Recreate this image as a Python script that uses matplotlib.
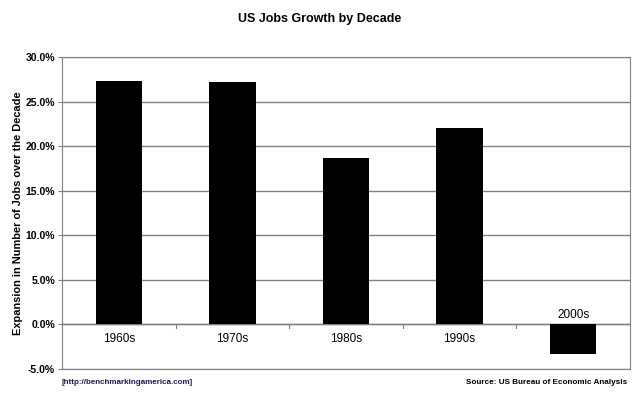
import numpy as np
import matplotlib
matplotlib.use("Agg")
import matplotlib.pyplot as plt
from matplotlib.ticker import FuncFormatter, MultipleLocator

plt.rcParams['font.family'] = ['Liberation Sans', 'DejaVu Sans']

# data
decades = ['1960s', '1970s', '1980s', '1990s', '2000s']
growth = [27.3, 27.2, 18.7, 22.0, -3.3]

fig = plt.figure(figsize=(6.4, 3.94), dpi=100)
ax = fig.add_axes([62/640, 25/394, 568/640, 312/394])

x = np.arange(len(decades))
ax.bar(x, growth, width=0.41, color='black', zorder=3)

ax.set_xlim(-0.5, len(decades) - 0.5)
ax.set_ylim(-5, 30)
ax.yaxis.set_major_locator(MultipleLocator(5))
ax.yaxis.set_major_formatter(FuncFormatter(lambda v, p: f'{v:.1f}%'))
ax.grid(axis='y', color='#808080', linewidth=1.0, zorder=0)
ax.axhline(0, color='#808080', linewidth=1.0, zorder=2)

# category boundary ticks hanging off the zero line
for b in np.arange(0.5, len(decades) - 0.5):
    ax.plot([b, b], [0, -0.35], color='#808080', linewidth=0.8, zorder=2)

ax.set_xticks([])
ax.tick_params(axis='y', length=3, color='#808080', labelsize=7.5, pad=2)
for lab in ax.get_yticklabels():
    lab.set_fontweight('bold')
for s in ax.spines.values():
    s.set_color('#808080')

# category labels: below axis for gains, above for the loss
for xi, name, v in zip(x, decades, growth):
    if v >= 0:
        ax.text(xi, -0.95, name, ha='center', va='top', fontsize=8.5)
    else:
        ax.text(xi, 0.35, name, ha='center', va='bottom', fontsize=8.5)

ax.set_ylabel('Expansion in Number of Jobs over the Decade', fontsize=7.9, fontweight='bold', labelpad=2)
fig.text(0.5, 1 - 19/394, 'US Jobs Growth by Decade', ha='center', va='center',
         fontsize=9, fontweight='bold')
fig.text(62/640, 1 - 383/394, '[http://benchmarkingamerica.com]', ha='left', va='center',
         fontsize=5.8, fontweight='bold', color='#1a1a5a')
fig.text(627/640, 1 - 383/394, 'Source: US Bureau of Economic Analysis', ha='right', va='center',
         fontsize=5.9, fontweight='bold', color='black')

fig.savefig('out.png', dpi=100)
